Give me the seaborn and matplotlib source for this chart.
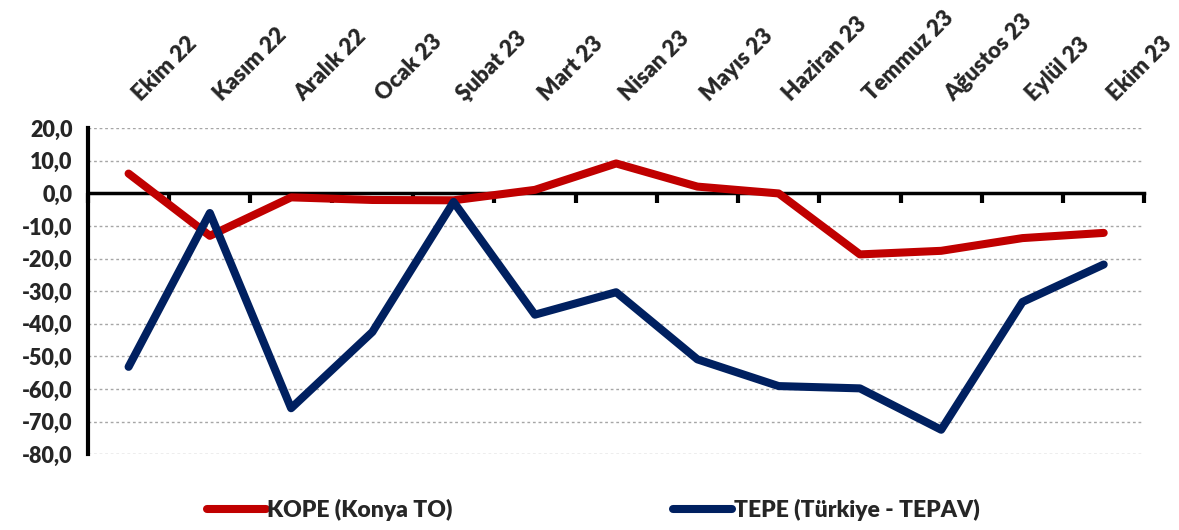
import numpy as np
import pandas as pd
import matplotlib
matplotlib.use("Agg")
import matplotlib.pyplot as plt
import seaborn as sns
from matplotlib.lines import Line2D
from matplotlib.ticker import FixedLocator

months = ["Ekim 22", "Kasım 22", "Aralık 22", "Ocak 23", "Şubat 23", "Mart 23", "Nisan 23",
          "Mayıs 23", "Haziran 23", "Temmuz 23", "Ağustos 23", "Eylül 23", "Ekim 23"]
kope = [6.1, -13.0, -1.2, -2.0, -2.1, 1.1, 9.2, 2.1, 0.0, -18.7, -17.6, -13.7, -12.1]
tepe = [-53.2, -6.0, -65.9, -42.5, -2.6, -37.2, -30.3, -50.9, -59.1, -59.8, -72.5, -33.3, -21.8]
series_names = ["KOPE (Konya TO)", "TEPE (Türkiye - TEPAV)"]
colors = ["#C00000", "#002060"]
yticks = [20, 10, 0, -10, -20, -30, -40, -50, -60, -70, -80]

df = pd.DataFrame({
    "x": list(range(len(months))) * 2,
    "value": kope + tepe,
    "series": [series_names[0]] * len(months) + [series_names[1]] * len(months),
})

sns.set_style("white")
plt.rcParams["font.family"] = ["Lato", "DejaVu Sans"]
W = "heavy"
plt.rcParams["font.weight"] = W

fig = plt.figure(figsize=(11.79, 5.30), dpi=100)
ax = fig.add_axes([0.0746, 0.143, 0.896, 0.615])

sns.lineplot(data=df, x="x", y="value", hue="series", palette=colors, linewidth=5.8,
             ax=ax, legend=False, solid_capstyle="round", solid_joinstyle="round")

ax.set_xlim(-0.5, len(months) - 0.5)
ax.set_ylim(-80, 20)
ax.set_yticks(yticks)
ax.set_yticklabels([f"{v:.1f}".replace(".", ",") for v in yticks], fontsize=15.5, fontweight=W)
ax.yaxis.grid(True, linestyle=(0, (2, 2)), color="#A6A6A6", linewidth=1.0)
ax.xaxis.grid(False)
ax.set_xlabel("")
ax.set_ylabel("")

for s in ["top", "right"]:
    ax.spines[s].set_visible(False)
ax.spines["left"].set_linewidth(3)
ax.spines["left"].set_color("black")
ax.spines["bottom"].set_position(("data", 0))
ax.spines["bottom"].set_linewidth(2.5)
ax.spines["bottom"].set_color("black")
ax.spines["bottom"].set_zorder(1)

ax.tick_params(axis="y", direction="out", length=7, width=3, color="black", pad=4)
ax.set_xticks(range(len(months)))
ax.set_xticklabels(months, rotation=45, ha="left", va="top", rotation_mode="anchor",
                   fontsize=16, fontweight=W)
ax.tick_params(axis="x", which="major", bottom=False, top=False, labelbottom=False, labeltop=True, pad=24)
ax.xaxis.set_minor_locator(FixedLocator(np.arange(len(months) + 1) - 0.5))
ax.tick_params(axis="x", which="minor", bottom=True, direction="out", length=7, width=3, color="black")

handles = [Line2D([0], [0], color=c, linewidth=5.8, solid_capstyle="round") for c in colors]
fig.legend(handles, series_names, loc="center", bbox_to_anchor=(0.503, 0.038), ncol=2,
           frameon=False, handlelength=2.6, handletextpad=0.05, columnspacing=9.6,
           prop={"size": 16.5, "weight": W})

fig.savefig("out.png", dpi=100)
